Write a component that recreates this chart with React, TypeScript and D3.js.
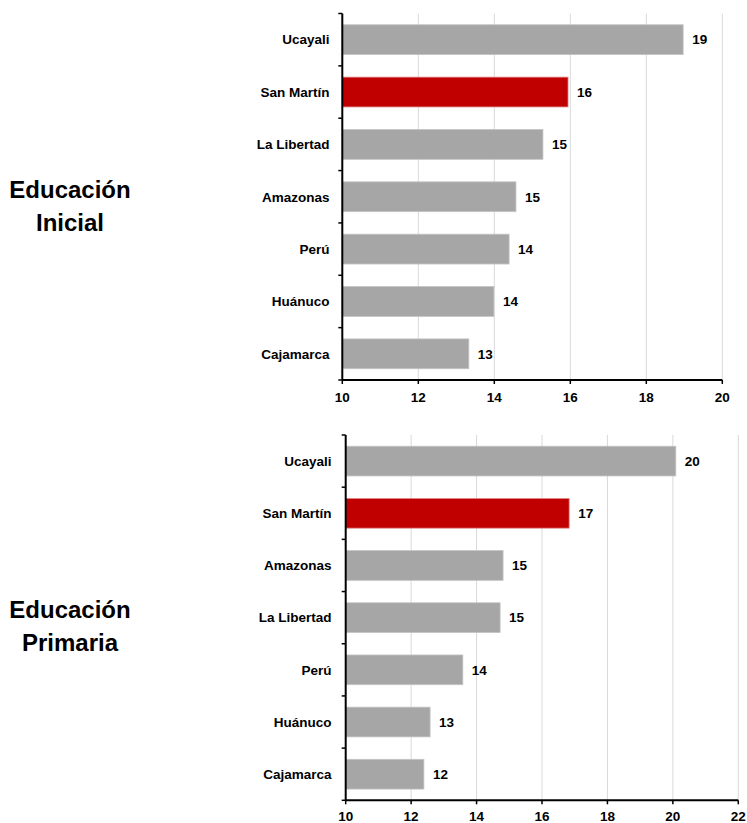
import React from "react";
import * as d3 from "d3";

const inicialCats = ["Ucayali", "San Martín", "La Libertad", "Amazonas", "Perú", "Huánuco", "Cajamarca"];
const inicialVals = [18.97, 15.94, 15.28, 14.57, 14.39, 13.99, 13.33];
const inicialLabels = ["19", "16", "15", "15", "14", "14", "13"];
const inicialTicks = [10, 12, 14, 16, 18, 20];

const primariaCats = ["Ucayali", "San Martín", "Amazonas", "La Libertad", "Perú", "Huánuco", "Cajamarca"];
const primariaVals = [20.09, 16.83, 14.81, 14.72, 13.58, 12.58, 12.39];
const primariaLabels = ["20", "17", "15", "15", "14", "13", "12"];
const primariaTicks = [10, 12, 14, 16, 18, 20, 22];

const highlight = "San Martín";
const FONT = "'Liberation Sans', Arial, sans-serif";

type PanelProps = {
  cats: string[];
  vals: number[];
  labels: string[];
  ticks: number[];
  x0: number;
  x1: number;
  y0: number;
  y1: number;
  labelRight: number;
  tickBaseline: number;
  title: string[];
  titleBaselines: number[];
};

function Panel(p: PanelProps) {
  const xs = d3.scaleLinear().domain([p.ticks[0], p.ticks[p.ticks.length - 1]]).range([p.x0, p.x1]);
  const ys = d3.scaleBand().domain(p.cats).range([p.y0, p.y1]).paddingInner(0.43).paddingOuter(0.215);
  const bandStep = (p.y1 - p.y0) / p.cats.length;
  const boundaries = d3.range(p.cats.length + 1).map((i) => p.y0 + i * bandStep);
  return (
    <g>
      {p.title.map((t, i) => (
        <text key={t} x={70} y={p.titleBaselines[i]} textAnchor="middle" fontFamily={FONT} fontWeight="bold" fontSize={24} fill="#000">
          {t}
        </text>
      ))}
      {p.ticks.slice(1).map((t) => (
        <line key={"g" + t} x1={xs(t)} x2={xs(t)} y1={p.y0} y2={p.y1} stroke="#d9d9d9" strokeWidth={1} />
      ))}
      {p.cats.map((c, i) => {
        const y = ys(c)!;
        const h = ys.bandwidth();
        const isH = c === highlight;
        return (
          <g key={c}>
            <rect
              x={xs(p.ticks[0])}
              y={y}
              width={xs(p.vals[i]) - xs(p.ticks[0])}
              height={h}
              fill={isH ? "#c00000" : "#a6a6a6"}
              stroke={isH ? "#e08a8a" : "#c4c4c4"}
              strokeWidth={0.8}
            />
            <text x={xs(p.vals[i]) + 9} y={y + h / 2 + 4.8} fontFamily={FONT} fontWeight="bold" fontSize={13.5} fill="#000">
              {p.labels[i]}
            </text>
            <text x={p.labelRight} y={y + h / 2 + 4.8} textAnchor="end" fontFamily={FONT} fontWeight="bold" fontSize={13.5} fill="#000">
              {c}
            </text>
          </g>
        );
      })}
      {boundaries.map((b, i) => (
        <line key={"yt" + i} x1={xs(p.ticks[0]) - 4} x2={xs(p.ticks[0])} y1={b} y2={b} stroke="#000" strokeWidth={1.5} />
      ))}
      <line x1={xs(p.ticks[0])} x2={xs(p.ticks[0])} y1={p.y0} y2={p.y1} stroke="#000" strokeWidth={2} />
      <line x1={xs(p.ticks[0])} x2={xs(p.ticks[p.ticks.length - 1])} y1={p.y1} y2={p.y1} stroke="#000" strokeWidth={2} />
      {p.ticks.map((t) => (
        <g key={"xt" + t}>
          <line x1={xs(t)} x2={xs(t)} y1={p.y1} y2={p.y1 + 4} stroke="#000" strokeWidth={1.5} />
          <text x={xs(t)} y={p.tickBaseline} textAnchor="middle" fontFamily={FONT} fontWeight="bold" fontSize={13.5} fill="#000">
            {t}
          </text>
        </g>
      ))}
    </g>
  );
}

export default function App() {
  return (
    <svg width={747} height={823} style={{ position: "absolute", left: 0, top: 0, background: "#fff" }}>
      <Panel
        cats={inicialCats}
        vals={inicialVals}
        labels={inicialLabels}
        ticks={inicialTicks}
        x0={342.3}
        x1={722.3}
        y0={13.5}
        y1={380}
        labelRight={329.5}
        tickBaseline={401.5}
        title={["Educación", "Inicial"]}
        titleBaselines={[198, 231]}
      />
      <Panel
        cats={primariaCats}
        vals={primariaVals}
        labels={primariaLabels}
        ticks={primariaTicks}
        x0={345.7}
        x1={738.3}
        y0={435}
        y1={800.3}
        labelRight={331.5}
        tickBaseline={821}
        title={["Educación", "Primaria"]}
        titleBaselines={[618, 651]}
      />
    </svg>
  );
}
